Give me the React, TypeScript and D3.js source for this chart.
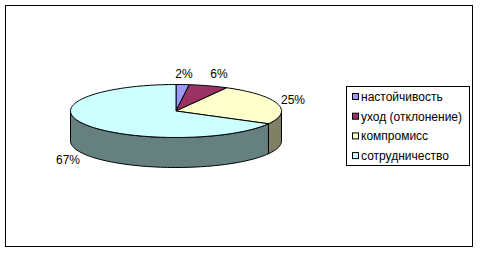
import React from "react";
import * as d3 from "d3";

const categories = ["настойчивость", "уход (отклонение)", "компромисс", "сотрудничество"];
const values = [2, 6, 25, 67];
const labels = ["2%", "6%", "25%", "67%"];
const topColors = ["#9999FF", "#993366", "#FFFFCC", "#CCFFFF"];
const sideColors = ["#4D4D80", "#4D1A33", "#808066", "#668080"];

const W = 480, H = 253;
const cx = 176, cy = 111, rx = 105.5, ry = 26.5, depth = 30;
const labelPos: [number, number][] = [[184, 78], [219, 78], [293, 104], [68, 164]];

const px = (a: number) => cx + rx * Math.sin(a);
const py = (a: number) => cy - ry * Math.cos(a);

function arcPoints(a0: number, a1: number, dy: number) {
  const n = Math.max(2, Math.ceil(((a1 - a0) / (Math.PI * 2)) * 180));
  const pts: [number, number][] = [];
  for (let i = 0; i <= n; i++) {
    const a = a0 + ((a1 - a0) * i) / n;
    pts.push([px(a), py(a) + dy]);
  }
  return pts;
}

export default function App() {
  const arcs = d3.pie<number>().sort(null).value((d) => d)(values);
  const line = d3.line();
  const sides: JSX.Element[] = [];
  const tops: JSX.Element[] = [];
  arcs.forEach((a, i) => {
    const s = Math.max(a.startAngle, Math.PI / 2);
    const e = Math.min(a.endAngle, (Math.PI * 3) / 2);
    if (e > s) {
      const topEdge = arcPoints(s, e, 0);
      const botEdge = arcPoints(s, e, depth).reverse();
      sides.push(
        <path key={"s" + i} d={line([...topEdge, ...botEdge])! + "Z"} fill={sideColors[i]} stroke="#000" strokeWidth={1} strokeLinejoin="round" />
      );
    }
    const pts: [number, number][] = [[cx, cy], ...arcPoints(a.startAngle, a.endAngle, 0)];
    tops.push(
      <path key={"t" + i} d={line(pts)! + "Z"} fill={topColors[i]} stroke="#000" strokeWidth={1} strokeLinejoin="round" />
    );
  });

  const legX = 346, legY = 86, legW = 123, legH = 79, rowH = 19.7;

  return (
    <svg width={W} height={H} style={{ position: "absolute", left: 0, top: 0, background: "#fff" }} fontFamily="'Liberation Sans', Arial, sans-serif">
      <rect x={0} y={0} width={W} height={H} fill="#fff" />
      <rect x={5.5} y={5.5} width={467} height={241} fill="#fff" stroke="#000" strokeWidth={1} />
      {sides}
      {tops}
      {labels.map((t, i) => (
        <text key={"l" + i} x={labelPos[i][0]} y={labelPos[i][1]} fontSize={12} textAnchor="middle" fill="#000">{t}</text>
      ))}
      <rect x={legX + 0.5} y={legY + 0.5} width={legW} height={legH} fill="#fff" stroke="#000" strokeWidth={1} />
      {categories.map((c, i) => {
        const yc = legY + 11 + i * rowH;
        return (
          <g key={"g" + i}>
            <rect x={352.5} y={yc - 3.5} width={6} height={6} fill={topColors[i]} stroke="#000" strokeWidth={1} />
            <text x={361} y={yc + 4} fontSize={12} fill="#000">{c}</text>
          </g>
        );
      })}
    </svg>
  );
}
